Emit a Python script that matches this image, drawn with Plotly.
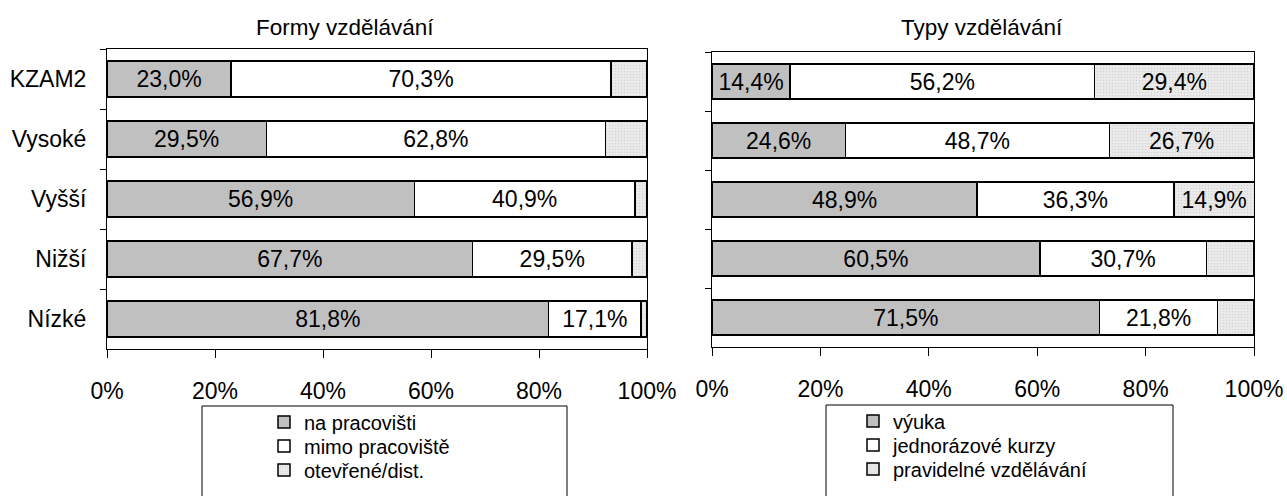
import plotly.graph_objects as go

# ---- data ----
categories = ["KZAM2", "Vysoké", "Vyšší", "Nižší", "Nízké"]

forms_names = ["na pracovišti", "mimo pracoviště", "otevřené/dist."]
forms_work = [23.0, 29.5, 56.9, 67.7, 81.8]
forms_out = [70.3, 62.8, 40.9, 29.5, 17.1]
forms_open = [6.7, 7.7, 2.2, 2.8, 1.1]
forms_show = [[True] * 5, [True] * 5, [False] * 5]

types_names = ["výuka", "jednorázové kurzy", "pravidelné vzdělávání"]
types_teach = [14.4, 24.6, 48.9, 60.5, 71.5]
types_once = [56.2, 48.7, 36.3, 30.7, 21.8]
types_regular = [29.4, 26.7, 14.9, 8.8, 6.7]
types_show = [[True] * 5, [True] * 5, [True, True, True, False, False]]

x_tickvals = [0, 20, 40, 60, 80, 100]
x_ticktext = ["0%", "20%", "40%", "60%", "80%", "100%"]

titles = ["Formy vzdělávání", "Typy vzdělávání"]

W, H = 1287, 496
FONT = "Liberation Sans, Arial, sans-serif"


def px_x(p):
    return p / W


def px_y(p):
    return 1 - p / H


def fmt(v):
    return f"{v:.1f}".replace(".", ",") + "%"


fills = [
    dict(color="#C0C0C0"),
    dict(color="#FFFFFF"),
    dict(color="#EAEAEA", pattern=dict(shape=".", fgcolor="#BDBDBD", bgcolor="#EAEAEA", size=3, solidity=0.2)),
]

# one legend box per entry so the rows can sit as tightly as in the reference
legend_ids = [["legend", "legend2", "legend3"], ["legend4", "legend5", "legend6"]]
legend_x = [264, 853]
legend_rows = [[422, 446, 470], [421, 445, 469]]

fig = go.Figure()

panels = [
    (forms_names, [forms_work, forms_out, forms_open], forms_show, "x", "y"),
    (types_names, [types_teach, types_once, types_regular], types_show, "x2", "y2"),
]

for p, (names, series, shows, xa, ya) in enumerate(panels):
    for i, (name, vals, show) in enumerate(zip(names, series, shows)):
        fill = fills[i]
        marker = dict(color=fill["color"], line=dict(color="#000000", width=1.5))
        if "pattern" in fill:
            marker["pattern"] = fill["pattern"]
        fig.add_trace(go.Bar(
            y=categories, x=vals, orientation="h", name=name,
            marker=marker,
            text=[fmt(v) if s else "" for v, s in zip(vals, show)],
            textposition="inside", insidetextanchor="middle", textangle=0,
            constraintext="none",
            textfont=dict(family=FONT, size=23, color="#000000"),
            xaxis=xa, yaxis=ya, legend=legend_ids[p][i], hoverinfo="skip",
        ))

axis_common = dict(showline=True, linecolor="#000000", linewidth=1, mirror=True,
                   showgrid=False, zeroline=False, automargin=False)
tick_font = dict(family=FONT, size=23, color="#000000")

legends = {}
for p in range(2):
    for i in range(3):
        legends[legend_ids[p][i]] = dict(
            x=px_x(legend_x[p]), y=px_y(legend_rows[p][i]), xanchor="left", yanchor="middle",
            bgcolor="rgba(0,0,0,0)", borderwidth=0,
            font=dict(family=FONT, size=20, color="#000000"))

fig.update_layout(
    width=W, height=H,
    margin=dict(l=0, r=0, t=0, b=0, pad=0),
    paper_bgcolor="#FFFFFF", plot_bgcolor="#FFFFFF",
    barmode="stack", bargap=0.4,
    font=dict(family=FONT, size=23, color="#000000"),
    xaxis=dict(domain=[px_x(107), px_x(647)], range=[0, 100], tickvals=x_tickvals,
               ticktext=x_ticktext, ticks="outside", ticklen=8, tickcolor="#000000",
               ticklabelstandoff=13, tickfont=tick_font, anchor="y", **axis_common),
    yaxis=dict(domain=[px_y(349), px_y(49)], autorange="reversed", type="category",
               ticks="outside", ticklen=6, tickson="boundaries", tickcolor="#000000",
               ticklabelstandoff=15, tickfont=tick_font, anchor="x", **axis_common),
    xaxis2=dict(domain=[px_x(712), px_x(1254)], range=[0, 100], tickvals=x_tickvals,
                ticktext=x_ticktext, ticks="outside", ticklen=8, tickcolor="#000000",
                ticklabelstandoff=13, tickfont=tick_font, anchor="y2", **axis_common),
    yaxis2=dict(domain=[px_y(347), px_y(52)], autorange="reversed", type="category",
                ticks="outside", ticklen=6, tickson="boundaries", tickcolor="#000000",
                showticklabels=False, anchor="x2", **axis_common),
    showlegend=True,
    annotations=[
        dict(text=titles[0], x=px_x(345), y=px_y(27), xref="paper", yref="paper",
             xanchor="center", yanchor="middle",
             showarrow=False, font=dict(family=FONT, size=22.5, color="#000000")),
        dict(text=titles[1], x=px_x(982), y=px_y(27), xref="paper", yref="paper",
             xanchor="center", yanchor="middle",
             showarrow=False, font=dict(family=FONT, size=22.5, color="#000000")),
    ],
    shapes=[
        dict(type="rect", xref="paper", yref="paper", x0=px_x(202), x1=px_x(567),
             y0=-0.1, y1=px_y(406), line=dict(color="#000000", width=1)),
        dict(type="rect", xref="paper", yref="paper", x0=px_x(826), x1=px_x(1173),
             y0=-0.1, y1=px_y(405), line=dict(color="#000000", width=1)),
    ],
    **legends,
)

fig.write_html("out.html", config={"displayModeBar": False},
               post_script="document.body.style.margin='0px';")
